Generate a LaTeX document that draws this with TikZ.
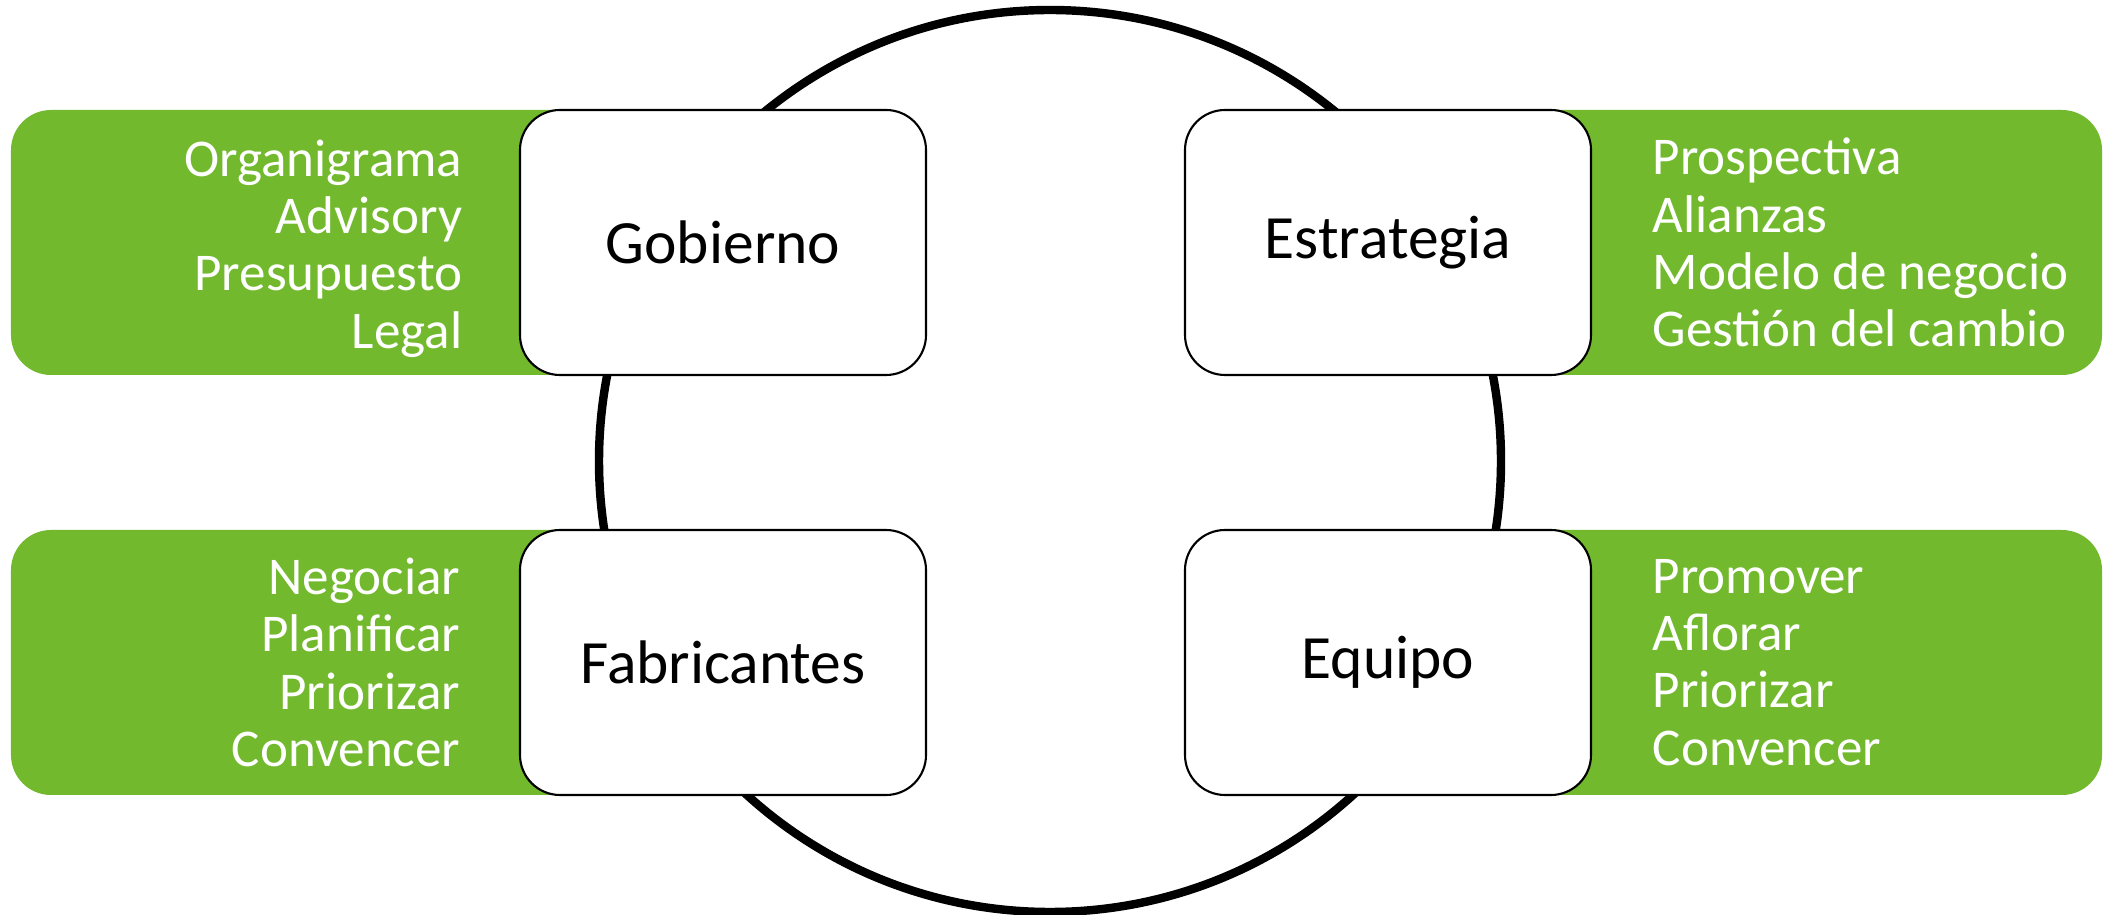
\documentclass[tikz,border=0pt]{standalone}
\usepackage{fontspec}
\setmainfont{Carlito}
\usetikzlibrary{positioning}
\definecolor{verde}{RGB}{114,185,46}

\tikzset{
  caja/.style={draw=black, line width=0.6pt, fill=white, rounded corners=0.4cm,
    minimum width=4.06cm, minimum height=2.65cm, font=\fontsize{17.5}{20}\selectfont},
  banda/.style={fill=verde, rounded corners=0.4cm, minimum height=2.65cm,
    minimum width=7.14cm, inner sep=0pt},
  lista/.style={text=white, font=\fontsize{15.1}{16.3}\selectfont, inner sep=0pt},
}

\begin{document}
\begin{tikzpicture}
    \useasboundingbox (0,0) rectangle (21.07,9.15);

    % Circulo de fondo
    \draw[line width=2.4pt] (10.50,4.54) circle (4.51);

    % Bandas verdes
    \node[banda] (bgob) at (3.68,6.725) {};
    \node[banda] (best) at (17.45,6.725) {};
    \node[banda] (bfab) at (3.68,2.525) {};
    \node[banda] (bequ) at (17.45,2.525) {};

    % Cajas principales
    \node[caja] (gob) at (7.23,6.725) {Gobierno};
    \node[caja] (est) at (13.88,6.725) {Estrategia};
    \node[caja] (fab) at (7.23,2.525) {Fabricantes};
    \node[caja] (equ) at (13.88,2.525) {Equipo};

    % Listas
    \node[lista, align=right, left=0.56cm of gob, yshift=-0.06cm] (lgob)
        {Organigrama\\Advisory\\Presupuesto\\Legal};
    \node[lista, align=left, right=0.6cm of est] (lest)
        {Prospectiva\\Alianzas\\Modelo de negocio\\Gestión del cambio};
    \node[lista, align=right, left=0.58cm of fab] (lfab)
        {Negociar\\Planificar\\Priorizar\\Convencer};
    \node[lista, align=left, right=0.6cm of equ] (lequ)
        {Promover\\Aflorar\\Priorizar\\Convencer};
\end{tikzpicture}
\end{document}
